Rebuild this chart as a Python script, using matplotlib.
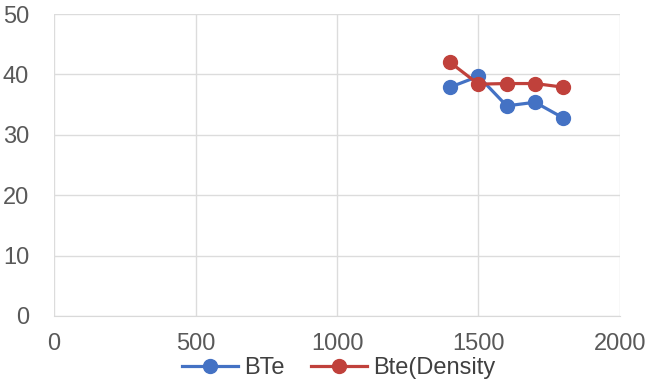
import matplotlib.pyplot as plt
import matplotlib.font_manager as fm

# data
x_vals = [1400, 1500, 1600, 1700, 1800]
bte = [37.9, 39.7, 34.8, 35.4, 32.8]
bte_density = [42.0, 38.4, 38.5, 38.5, 37.9]

names = {f.name for f in fm.fontManager.ttflist}
font = "Liberation Sans Narrow" if "Liberation Sans Narrow" in names else "Liberation Sans"
plt.rcParams["font.family"] = [font, "DejaVu Sans"]

fig = plt.figure(figsize=(6.45, 3.82), dpi=100)
ax = fig.add_axes([0.084, 0.173, 0.877, 0.79])

ax.plot(x_vals, bte, color="#4472C4", linewidth=2.3, marker="o", markersize=10, label="BTe")
ax.plot(x_vals, bte_density, color="#C0413B", linewidth=2.3, marker="o", markersize=10, label="Bte(Density")

ax.set_xlim(0, 2000)
ax.set_ylim(0, 50)
ax.set_xticks([0, 500, 1000, 1500, 2000])
ax.set_yticks([0, 10, 20, 30, 40, 50])
ax.grid(True, color="#DCDCDC", linewidth=1)
ax.set_axisbelow(True)
for s in ["top", "right", "left"]:
    ax.spines[s].set_visible(False)
ax.spines["bottom"].set_color("#D9D9D9")
ax.tick_params(length=0, labelsize=17, colors="#595959")
ax.tick_params(axis="x", pad=12)
ax.tick_params(axis="y", pad=18)

fig.legend(loc="center", bbox_to_anchor=(0.525, 0.036), ncol=2, frameon=False,
           fontsize=17, labelcolor="#404040", handlelength=2.4, columnspacing=1.1,
           handletextpad=0.25, borderaxespad=0)

plt.savefig("out.png", dpi=100)
